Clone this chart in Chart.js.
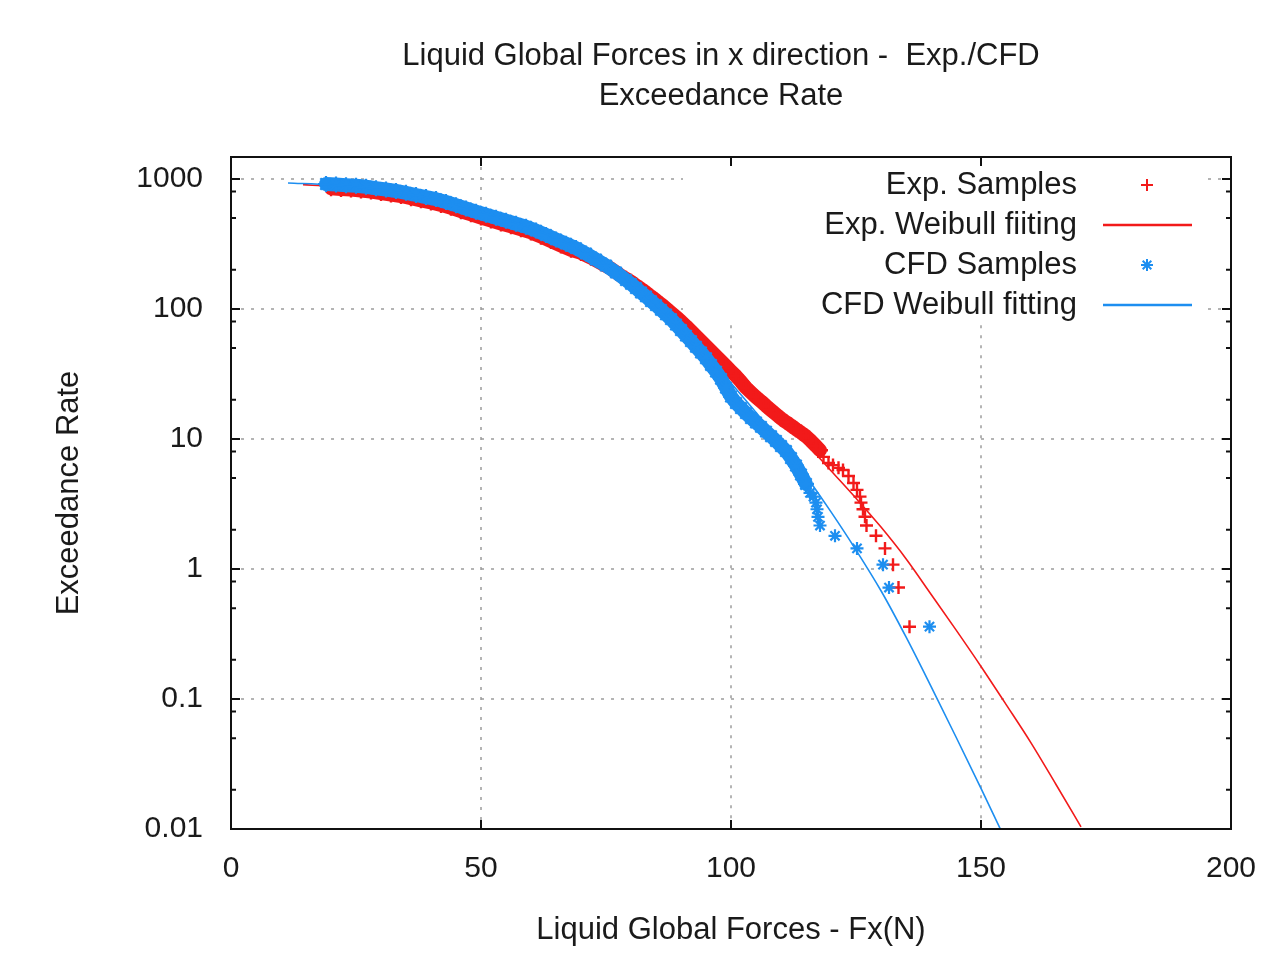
<!DOCTYPE html>
<html>
<head>
<meta charset="utf-8">
<title>Liquid Global Forces - Exceedance Rate</title>
<script src="https://cdn.jsdelivr.net/npm/chart.js@4.4.0/dist/chart.umd.min.js"></script>
<style>
  body { margin: 0; background: #fff; }
  canvas { display: block; }
</style>
</head>
<body>
<canvas id="exceedanceChart" width="1281" height="963"></canvas>
<script>
// Chart texts
const titleLines = ['Liquid Global Forces in x direction -  Exp./CFD', 'Exceedance Rate'];
const xAxisTitle = 'Liquid Global Forces - Fx(N)';
const yAxisTitle = 'Exceedance Rate';

// Tick values / labels
const xTickStep = 50;
const yTickValues = [0.01, 0.1, 1, 10, 100, 1000];
const yTickLabels = ['0.01', '0.1', '1', '10', '100', '1000'];
const yMinorTicks = [0.02, 0.05, 0.08, 0.2, 0.5, 0.8, 2, 5, 8, 20, 50, 80, 200, 500, 800];

// Exp. samples
const expX = [20, 22, 24, 26, 28, 30, 32, 34, 36, 38, 40, 42, 44, 46, 48, 50, 52, 54, 56, 58,
  60, 62, 64, 66, 68, 70, 72, 74, 76, 78, 79, 80, 81, 82, 83, 84, 85, 86, 87, 88,
  89, 90, 91, 92, 93, 94, 95, 96, 97, 98, 99, 100, 101, 102, 103, 104, 105, 106, 107, 108,
  109, 110, 111, 112, 113, 114, 115, 116, 117, 117.8, 118.5, 119.5, 120.4, 121.5, 122.4, 123.5, 124.5, 125.2, 125.8, 126.0,
  126.4, 126.8, 127.1, 129.0, 130.8, 132.4, 133.5, 135.7];
const expY = [850, 838, 830, 815, 800, 780, 760, 740, 712, 685, 660, 632, 600, 565, 535, 505, 480, 455, 432, 410,
  388, 360, 333, 308, 285, 270, 248, 225, 204, 180, 171, 162, 152, 143, 134, 125, 117, 109, 101, 93.8,
  86.9, 80.4, 74, 67.7, 62, 56.7, 51.9, 47.5, 43.5, 39.8, 36.4, 33.3, 30.5, 27.6, 24.8, 22.8, 21.0, 19.5, 18.0, 16.7,
  15.5, 14.4, 13.5, 12.7, 11.9, 11.2, 10.5, 9.66, 8.84, 8.2, 7.28, 6.54, 6.3, 6.0, 5.78, 5.19, 4.59, 4.06, 3.6, 3.24,
  2.88, 2.52, 2.16, 1.8, 1.44, 1.08, 0.72, 0.36];

// Exp. Weibull fitting
const expFitX = [14.4, 20, 30, 40, 50, 60, 70, 80, 90, 95, 100, 105, 110, 115, 120, 125, 130, 135, 140, 145, 150, 155, 160, 165, 170];
const expFitY = [905, 875, 785, 665, 525, 385, 258, 160, 80, 55, 37.5, 24, 15, 9.3, 5.7, 3.5, 2.1, 1.2, 0.64, 0.34, 0.178, 0.091, 0.046, 0.022, 0.0104];

// CFD samples
const cfdX = [19, 21, 23, 25, 27, 29, 31, 33, 35, 37, 39, 41, 43, 45, 47, 49, 51, 53, 55, 57,
  59, 61, 63, 65, 67, 69, 71, 73, 75, 77, 79, 80, 81, 82, 83, 84, 85, 86, 87, 88,
  89, 90, 91, 92, 93, 94, 95, 96, 97, 98, 99, 100, 101, 102, 103, 104, 105, 106, 107, 108,
  109, 110, 111, 112, 113, 114, 115, 115.8, 116.5, 117.0, 117.2, 117.4, 117.8, 120.8, 125.2, 130.4, 131.6, 139.7];
const cfdY = [915, 906, 896, 887, 871, 849, 830, 809, 782, 753, 726, 700, 665, 629, 593, 560, 531, 504, 477, 452,
  429, 401, 371, 343, 318, 294, 267, 240, 216, 191, 167, 156, 145, 134, 125, 115, 107, 98.5, 90.9, 83.6,
  75.9, 68.9, 62.4, 56.6, 51.2, 46.3, 41.8, 37.1, 33, 29, 24.8, 21.2, 18.9, 17.3, 15.8, 14.5, 13.4, 12.4, 11.4, 10.5,
  9.66, 8.83, 8.08, 7.14, 6.25, 5.33, 4.51, 3.85, 3.6, 3.24, 2.88, 2.52, 2.16, 1.8, 1.44, 1.08, 0.72, 0.36];

// CFD Weibull fitting
const cfdFitX = [11.4, 20, 30, 40, 50, 60, 70, 80, 90, 95, 100, 105, 110, 115, 120, 125, 130, 135, 140, 145, 150, 155];
const cfdFitY = [931, 900, 825, 710, 560, 420, 285, 165, 72, 46, 27, 16, 9.3, 5.2, 2.75, 1.4, 0.68, 0.30, 0.125, 0.051, 0.0205, 0.0081];

const RED = '#f21a1a';
const BLUE = '#1d8ef0';
const FONT = '"Liberation Sans", Arial, sans-serif';

function toPoints(xs, ys) {
    return xs.map((x, i) => ({ x: x, y: ys[i] }));
}

// overlapping markers in the crowded part merge into a thick band
function bandSegment(color, limit) {
    const dense = c => c.p0.parsed.y > limit && c.p1.parsed.y > limit;
    return {
        borderWidth: c => dense(c) ? 14 : 0,
        borderColor: c => dense(c) ? color : 'rgba(0,0,0,0)'
    };
}

function markerSize(limit) {
    return c => (c.raw && c.raw.y > limit) ? 8 : 6.5;
}

// dotted grid, kept off the key area like gnuplot does
const dottedGrid = {
    id: 'dottedGrid',
    beforeDatasetsDraw(chart) {
        const { ctx, chartArea: a, scales: { x, y } } = chart;
        const keyL = x.getPixelForValue(90.4);
        const keyR = x.getPixelForValue(195.4);
        const keyB = y.getPixelForValue(75);
        ctx.save();
        ctx.strokeStyle = '#9c9c9c';
        ctx.lineWidth = 1.5;
        ctx.setLineDash([3, 7]);
        const seg = (x1, y1, x2, y2) => {
            ctx.beginPath();
            ctx.moveTo(x1, y1);
            ctx.lineTo(x2, y2);
            ctx.stroke();
        };
        x.ticks.forEach(t => {
            const px = x.getPixelForValue(t.value);
            if (px <= a.left + 1 || px >= a.right - 1) return;
            seg(px, (px > keyL && px < keyR) ? keyB : a.top, px, a.bottom);
        });
        y.ticks.forEach(t => {
            const py = y.getPixelForValue(t.value);
            if (py <= a.top + 1 || py >= a.bottom - 1) return;
            if (py < keyB) {
                seg(a.left, py, keyL, py);
                seg(keyR, py, a.right, py);
            } else {
                seg(a.left, py, a.right, py);
            }
        });
        ctx.restore();
    }
};

// border frame with inward ticks on all four sides
const frameTicks = {
    id: 'frameTicks',
    afterDatasetsDraw(chart) {
        const { ctx, chartArea: a, scales: { x, y } } = chart;
        ctx.save();
        ctx.strokeStyle = '#111';
        ctx.lineWidth = 2;
        ctx.setLineDash([]);
        ctx.strokeRect(a.left, a.top, a.right - a.left, a.bottom - a.top);
        ctx.beginPath();
        x.ticks.forEach(t => {
            const px = x.getPixelForValue(t.value);
            ctx.moveTo(px, a.bottom); ctx.lineTo(px, a.bottom - 9);
            ctx.moveTo(px, a.top); ctx.lineTo(px, a.top + 9);
        });
        y.ticks.forEach(t => {
            const py = y.getPixelForValue(t.value);
            ctx.moveTo(a.left, py); ctx.lineTo(a.left + 9, py);
            ctx.moveTo(a.right, py); ctx.lineTo(a.right - 9, py);
        });
        yMinorTicks.forEach(v => {
            const py = y.getPixelForValue(v);
            ctx.moveTo(a.left, py); ctx.lineTo(a.left + 5, py);
            ctx.moveTo(a.right, py); ctx.lineTo(a.right - 5, py);
        });
        ctx.stroke();
        ctx.restore();
    }
};

// key (text on the left, sample on the right) + two-line title
const keyAndTitle = {
    id: 'keyAndTitle',
    afterDraw(chart) {
        const { ctx, chartArea: a } = chart;
        ctx.save();
        ctx.fillStyle = '#1a1a1a';
        ctx.font = '31px ' + FONT;
        ctx.textAlign = 'center';
        ctx.textBaseline = 'middle';
        const cx = (a.left + a.right) / 2 - 10;
        ctx.fillText(titleLines[0], cx, 56);
        ctx.fillText(titleLines[1], cx, 96);

        ctx.textAlign = 'right';
        chart.data.datasets.forEach((ds, i) => {
            const yy = a.top + 28 + i * 40;
            ctx.fillStyle = '#1a1a1a';
            ctx.fillText(ds.label, a.right - 154, yy);
            ctx.strokeStyle = ds.borderColor;
            const mx = a.right - 84;
            ctx.beginPath();
            if (ds.pointRadius === 0) {
                ctx.lineWidth = 2.5;
                ctx.moveTo(a.right - 128, yy);
                ctx.lineTo(a.right - 39, yy);
            } else {
                ctx.lineWidth = 2;
                const r = 6;
                ctx.moveTo(mx - r, yy); ctx.lineTo(mx + r, yy);
                ctx.moveTo(mx, yy - r); ctx.lineTo(mx, yy + r);
                if (ds.pointStyle === 'star') {
                    const d = r * 0.72;
                    ctx.moveTo(mx - d, yy - d); ctx.lineTo(mx + d, yy + d);
                    ctx.moveTo(mx - d, yy + d); ctx.lineTo(mx + d, yy - d);
                }
            }
            ctx.stroke();
        });
        ctx.restore();
    }
};

const ctx = document.getElementById('exceedanceChart').getContext('2d');
new Chart(ctx, {
    type: 'scatter',
    data: {
        datasets: [
            {
                label: 'Exp. Samples',
                data: toPoints(expX, expY),
                showLine: true,
                borderWidth: 14,
                borderCapStyle: 'round',
                borderJoinStyle: 'round',
                segment: bandSegment(RED, 7.5),
                pointStyle: 'cross',
                pointRadius: markerSize(7.5),
                pointBorderWidth: 2.4,
                pointBorderColor: RED,
                borderColor: RED,
                backgroundColor: RED,
                order: 4
            },
            {
                label: 'Exp. Weibull fiiting',
                data: toPoints(expFitX, expFitY),
                showLine: true,
                pointRadius: 0,
                borderWidth: 1.6,
                borderColor: RED,
                cubicInterpolationMode: 'monotone',
                order: 3
            },
            {
                label: 'CFD Samples',
                data: toPoints(cfdX, cfdY),
                showLine: true,
                borderWidth: 14,
                borderCapStyle: 'round',
                borderJoinStyle: 'round',
                segment: bandSegment(BLUE, 4.5),
                pointStyle: 'star',
                pointRadius: markerSize(4.5),
                pointBorderWidth: 2.2,
                pointBorderColor: BLUE,
                borderColor: BLUE,
                backgroundColor: BLUE,
                order: 2
            },
            {
                label: 'CFD Weibull fitting',
                data: toPoints(cfdFitX, cfdFitY),
                showLine: true,
                pointRadius: 0,
                borderWidth: 1.6,
                borderColor: BLUE,
                cubicInterpolationMode: 'monotone',
                order: 1
            }
        ]
    },
    options: {
        responsive: false,
        animation: false,
        devicePixelRatio: 1,
        layout: { padding: { top: 157, right: 50, left: 0, bottom: 0 } },
        plugins: {
            legend: { display: false },
            title: { display: false },
            tooltip: { enabled: false }
        },
        scales: {
            x: {
                type: 'linear',
                min: 0,
                max: 200,
                afterFit: scale => { scale.height = 134; },
                grid: { display: false, drawTicks: false },
                border: { display: false },
                ticks: {
                    stepSize: xTickStep,
                    padding: 22,
                    color: '#1a1a1a',
                    font: { family: FONT, size: 30 }
                },
                title: {
                    display: true,
                    text: xAxisTitle,
                    color: '#1a1a1a',
                    font: { family: FONT, size: 31 },
                    padding: { top: 0, bottom: 14 }
                }
            },
            y: {
                type: 'logarithmic',
                min: 0.01,
                max: 1476,
                afterFit: scale => { scale.width = 231; },
                afterBuildTicks: scale => {
                    scale.ticks = yTickValues.map(v => ({ value: v, major: true }));
                },
                grid: { display: false, drawTicks: false },
                border: { display: false },
                ticks: {
                    padding: 28,
                    color: '#1a1a1a',
                    font: { family: FONT, size: 30 },
                    callback: (value, index) => yTickLabels[index]
                },
                title: {
                    display: true,
                    text: yAxisTitle,
                    color: '#1a1a1a',
                    font: { family: FONT, size: 31 },
                    padding: { top: 51, bottom: 0 }
                }
            }
        }
    },
    plugins: [dottedGrid, frameTicks, keyAndTitle]
});
</script>
</body>
</html>
